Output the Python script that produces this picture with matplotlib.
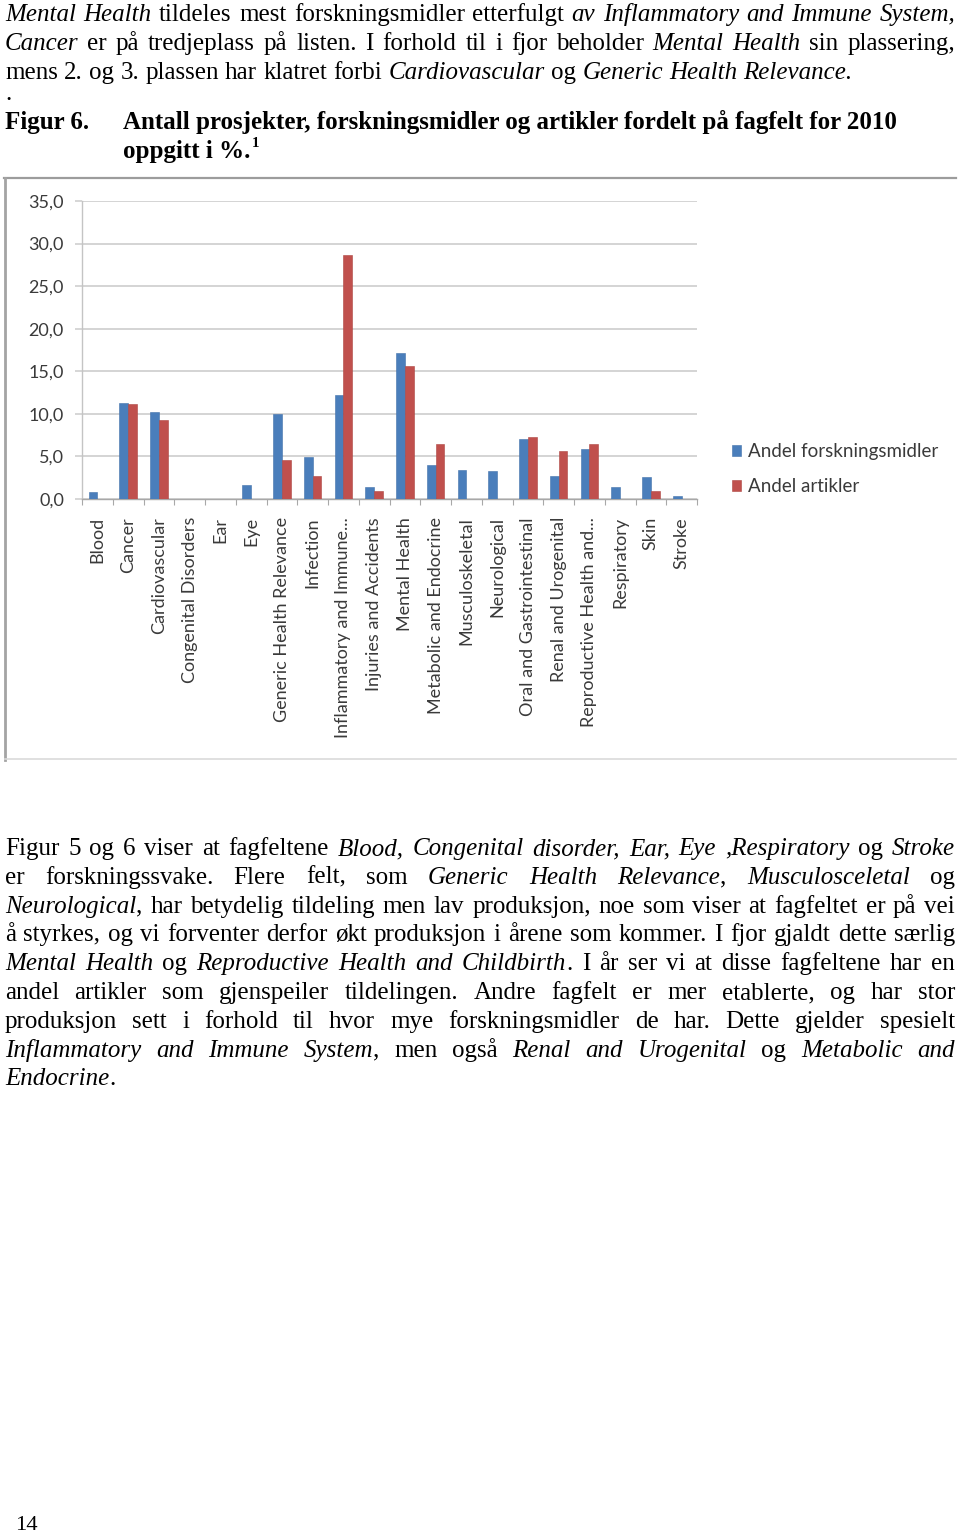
import matplotlib
matplotlib.use("Agg")
import matplotlib.pyplot as plt
from matplotlib.lines import Line2D
import numpy as np

W, H = 960, 1533

categories = ["Blood", "Cancer", "Cardiovascular", "Congenital Disorders", "Ear", "Eye",
              "Generic Health Relevance", "Infection", "Inflammatory and Immune...",
              "Injuries and Accidents", "Mental Health", "Metabolic and Endocrine",
              "Musculoskeletal", "Neurological", "Oral and Gastrointestinal",
              "Renal and Urogenital", "Reproductive Health and...", "Respiratory",
              "Skin", "Stroke"]
andel_midler = [0.8, 11.3, 10.2, 0.0, 0.0, 1.7, 10.0, 4.9, 12.2, 1.45, 17.2, 4.0,
                3.4, 3.25, 7.0, 2.7, 5.9, 1.45, 2.55, 0.4]
andel_artikler = [0.0, 11.2, 9.3, 0.0, 0.0, 0.0, 4.6, 2.7, 28.7, 0.94, 15.6, 6.5,
                  0.0, 0.0, 7.3, 5.6, 6.5, 0.0, 0.94, 0.0]
series_labels = ["Andel forskningsmidler", "Andel artikler"]
y_ticks = [0, 5, 10, 15, 20, 25, 30, 35]
y_ticklabels = ["0,0", "5,0", "10,0", "15,0", "20,0", "25,0", "30,0", "35,0"]

para1 = [
    "*Mental Health* tildeles mest forskningsmidler etterfulgt *av Inflammatory and Immune System,*",
    "*Cancer* er på tredjeplass på listen. I forhold til i fjor beholder *Mental Health* sin plassering,",
    "mens 2. og 3. plassen har klatret forbi *Cardiovascular* og *Generic Health Relevance.*",
]
para2 = [
    "Figur 5 og 6 viser at fagfeltene *Blood, Congenital disorder, Ear, Eye ,Respiratory* og *Stroke*",
    "er forskningssvake. Flere felt, som *Generic Health Relevance*, *Musculosceletal* og",
    "*Neurological*, har betydelig tildeling men lav produksjon, noe som viser at fagfeltet er på vei",
    "å styrkes, og vi forventer derfor økt produksjon i årene som kommer. I fjor gjaldt dette særlig",
    "*Mental Health* og *Reproductive Health and Childbirth*. I år ser vi at disse fagfeltene har en",
    "andel artikler som gjenspeiler tildelingen. Andre fagfelt er mer etablerte, og har stor",
    "produksjon sett i forhold til hvor mye forskningsmidler de har. Dette gjelder spesielt",
    "*Inflammatory and Immune System*, men også *Renal and Urogenital* og *Metabolic and*",
    "*Endocrine*.",
]

fig = plt.figure(figsize=(W / 100, H / 100), dpi=100)
renderer = fig.canvas.get_renderer()

def fx(x):
    return x / W

def fy(y):
    return 1 - y / H

SERIF = "Liberation Serif"
SANS = "Lato"
BODY = 18.0

def parse(line):
    words, cur, buf, ital = [], [], "", False
    for ch in line:
        if ch == "*":
            if buf:
                cur.append((buf, ital)); buf = ""
            ital = not ital
        elif ch == " ":
            if buf:
                cur.append((buf, ital)); buf = ""
            if cur:
                words.append(cur); cur = []
        else:
            buf += ch
    if buf:
        cur.append((buf, ital))
    if cur:
        words.append(cur)
    return words

def measure(s, ital, size, weight="normal"):
    t = fig.text(0, 0, s, fontsize=size, family=SERIF,
                 style="italic" if ital else "normal", weight=weight)
    w = t.get_window_extent(renderer).width
    t.remove()
    return w

def word_width(word, size):
    return sum(measure(s, i, size) for s, i in word)

def draw_line(line, x0, x1, ybase, size, justify=True):
    words = parse(line)
    widths = [word_width(w, size) for w in words]
    space = measure("x x", False, size) - measure("xx", False, size)
    if justify and len(words) > 1:
        gap = (x1 - x0 - sum(widths)) / (len(words) - 1)
    else:
        gap = space
    x = x0
    for w, ww in zip(words, widths):
        xx = x
        for s, i in w:
            fig.text(fx(xx), fy(ybase), s, fontsize=size, family=SERIF,
                     style="italic" if i else "normal", va="baseline", ha="left",
                     color="black")
            xx += measure(s, i, size)
        x += ww + gap

def natural_ratio(lines, size):
    r = 0
    space = measure("x x", False, size) - measure("xx", False, size)
    for ln in lines:
        words = parse(ln)
        tot = sum(word_width(w, size) for w in words) + 0.6 * space * (len(words) - 1)
        r = max(r, tot / (955 - 5))
    return r

just_lines = para1[:2] + para2[:8]
ratio = natural_ratio(just_lines, BODY)
size = BODY if ratio <= 1 else BODY / ratio

# paragraph 1
for k, ln in enumerate(para1):
    draw_line(ln, 5, 955, 21 + k * 29, size, justify=(k < 2))
fig.text(fx(5), fy(100), ".", fontsize=size, family=SERIF, va="baseline")

# heading
fig.text(fx(5), fy(129), "Figur 6.", fontsize=BODY, family=SERIF, weight="bold", va="baseline")
fig.text(fx(123), fy(129), "Antall prosjekter, forskningsmidler og artikler fordelt på fagfelt for 2010",
         fontsize=BODY, family=SERIF, weight="bold", va="baseline")
t = fig.text(fx(123), fy(158), "oppgitt i %.", fontsize=BODY, family=SERIF, weight="bold", va="baseline")
wopp = t.get_window_extent(renderer).width
fig.text(fx(123 + wopp + 1), fy(147), "1", fontsize=BODY * 0.6, family=SERIF, weight="bold",
         va="baseline")

# paragraph 2
for k, ln in enumerate(para2):
    draw_line(ln, 5, 955, 855 + k * 28.8, size, justify=(k < 8))

# page number
fig.text(fx(15), fy(1530), "14", fontsize=BODY * 0.9, family=SERIF, va="baseline")

# chart frame
fig.add_artist(Line2D([fx(4), fx(956)], [fy(178), fy(178)], color="#9c9c9c", lw=1.6))
fig.add_artist(Line2D([fx(5), fx(5)], [fy(178), fy(760)], color="#a4a4a4", lw=2.0))
fig.add_artist(Line2D([fx(5), fx(956)], [fy(759), fy(759)], color="#dadada", lw=1.2))

# chart axes
ax_l, ax_r, ax_t, ax_b = 82, 697, 201, 499
ax = fig.add_axes([fx(ax_l), fy(ax_b), (ax_r - ax_l) / W, (ax_b - ax_t) / H])
x = np.arange(len(categories))
bw = 0.285
ax.bar(x - bw / 2, andel_midler, width=bw, color="#4a7ebb", edgecolor="#4271ab", lw=0.4,
       label=series_labels[0], zorder=3)
ax.bar(x + bw / 2, andel_artikler, width=bw, color="#c0504d", edgecolor="#ad4542", lw=0.4,
       label=series_labels[1], zorder=3)
ax.set_xlim(-0.5, len(categories) - 0.5)
ax.set_ylim(0, 35)
ax.set_yticks(y_ticks)
ax.set_yticklabels(y_ticklabels)
ax.yaxis.grid(True, color="#d4d4d4", lw=1.4, zorder=0)
ax.set_axisbelow(True)
ax.set_xticks(x)
ax.set_xticklabels(categories, rotation=90, va="top", ha="center")
ax.set_xticks(np.arange(len(categories) + 1) - 0.5, minor=True)
ax.tick_params(axis="x", which="major", length=0, pad=13, labelsize=13, labelcolor="#3a3a3a")
ax.tick_params(axis="x", which="minor", length=4, width=0.8, color="#a8a8a8", direction="out")
ax.tick_params(axis="y", length=5, width=1.2, color="#d0d0d0", pad=8, labelsize=13,
               labelcolor="#3a3a3a")
for lab in ax.get_xticklabels() + ax.get_yticklabels():
    lab.set_family(SANS)
for s in ["top", "right"]:
    ax.spines[s].set_visible(False)
ax.spines["left"].set_color("#c4c4c4")
ax.spines["bottom"].set_color("#a8a8a8")
ax.spines["left"].set_linewidth(1.0)
ax.spines["bottom"].set_linewidth(1.0)

leg = ax.legend(loc="center left", bbox_to_anchor=(fx(715), fy(469)), bbox_transform=fig.transFigure,
                frameon=False, handlelength=0.5, handleheight=0.5, handletextpad=0.35,
                labelspacing=0.95, prop={"family": SANS, "size": 13.5})
for txt in leg.get_texts():
    txt.set_color("#3a3a3a")

fig.savefig("out.png", dpi=100)
